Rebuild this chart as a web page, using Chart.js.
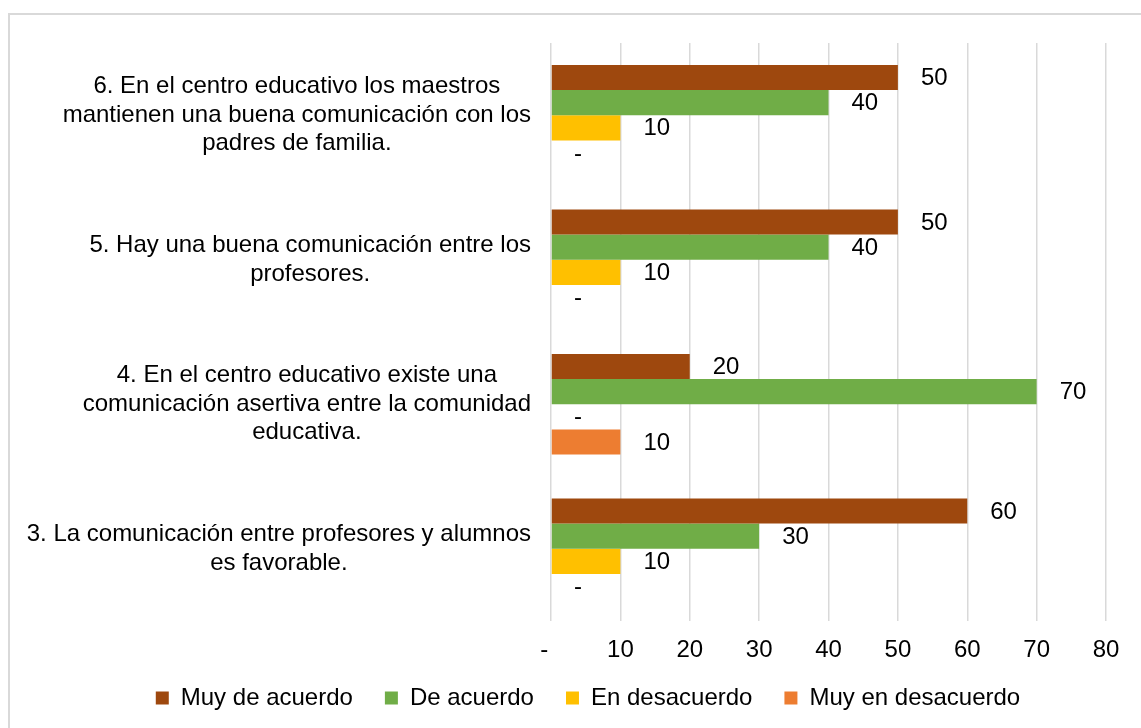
<!DOCTYPE html>
<html>
<head>
<meta charset="utf-8">
<script src="https://cdn.jsdelivr.net/npm/chart.js@4.4.0/dist/chart.umd.min.js"></script>
<style>
  html, body { margin: 0; padding: 0; background: #fff; overflow: hidden; }
  #wrap { position: relative; width: 1141px; height: 728px; }
  #frame { position: absolute; left: 8px; top: 13px; width: 1160px; height: 740px;
           border: 2px solid #d9d9d9; box-sizing: border-box; pointer-events: none; }
  canvas { position: absolute; left: 0; top: 0; }
</style>
</head>
<body>
<div id="wrap">
  <canvas id="chart" width="1141" height="728"></canvas>
  <div id="frame"></div>
</div>
<script>
var CATEGORIES = [
  ['6. En el centro educativo los maestros', 'mantienen una buena comunicación con los', 'padres de familia.'],
  ['5. Hay una buena comunicación entre los', 'profesores.'],
  ['4. En el centro educativo existe una', 'comunicación asertiva entre la comunidad', 'educativa.'],
  ['3. La comunicación entre profesores y alumnos', 'es favorable.']
];
var SERIES_NAMES = ['Muy de acuerdo', 'De acuerdo', 'En desacuerdo', 'Muy en desacuerdo'];
var MUY_DE_ACUERDO = [50, 50, 20, 60];
var DE_ACUERDO = [40, 40, 70, 30];
var EN_DESACUERDO = [10, 10, 0, 10];
var MUY_EN_DESACUERDO = [0, 0, 10, 0];
var X_MAX = 80;
var X_STEP = 10;
var ZERO_LABEL = '-';

var COLORS = ['#9e480e', '#70ad47', '#ffc000', '#ed7d31'];
var FONT = '"Liberation Sans", Arial, sans-serif';
var FONT_SIZE = 24;

Chart.defaults.font.family = FONT;
Chart.defaults.color = '#000';

// category labels: each block centred on itself, right edge near the axis
var yLabelPlugin = {
  id: 'yLabels',
  afterDraw: function(chart) {
    var ctx = chart.ctx;
    var scale = chart.scales.y;
    var right = scale.right - 20;
    ctx.save();
    ctx.font = FONT_SIZE + 'px ' + FONT;
    ctx.fillStyle = '#000';
    ctx.textAlign = 'center';
    ctx.textBaseline = 'middle';
    CATEGORIES.forEach(function(lines, i) {
      var widest = Math.max.apply(null, lines.map(function(l) { return ctx.measureText(l).width; }));
      var cx = right - widest / 2;
      var cy = scale.getPixelForValue(i);
      lines.forEach(function(line, j) {
        ctx.fillText(line, cx, cy + (j - (lines.length - 1) / 2) * 28.5);
      });
    });
    ctx.restore();
  }
};

var valueLabelPlugin = {
  id: 'valueLabels',
  afterDatasetsDraw: function(chart) {
    var ctx = chart.ctx;
    ctx.save();
    ctx.font = FONT_SIZE + 'px ' + FONT;
    ctx.fillStyle = '#000';
    ctx.textAlign = 'left';
    ctx.textBaseline = 'middle';
    chart.data.datasets.forEach(function(ds, di) {
      chart.getDatasetMeta(di).data.forEach(function(bar, i) {
        var v = ds.data[i];
        ctx.fillText(v === 0 ? ZERO_LABEL : String(v), bar.x + 23, bar.y + 1);
      });
    });
    ctx.restore();
  }
};

var seriesData = [MUY_DE_ACUERDO, DE_ACUERDO, EN_DESACUERDO, MUY_EN_DESACUERDO];

new Chart(document.getElementById('chart'), {
  type: 'bar',
  data: {
    labels: CATEGORIES,
    datasets: SERIES_NAMES.map(function(name, i) {
      return {
        label: name,
        data: seriesData[i],
        backgroundColor: COLORS[i],
        borderWidth: 0,
        barPercentage: 1,
        categoryPercentage: 0.697
      };
    })
  },
  options: {
    indexAxis: 'y',
    responsive: false,
    animation: false,
    layout: { padding: { left: 70, right: 35, top: 43, bottom: 8 } },
    plugins: {
      tooltip: { enabled: false },
      legend: {
        position: 'bottom',
        labels: {
          boxWidth: 13,
          boxHeight: 13,
          padding: 12,
          color: '#000',
          font: { size: FONT_SIZE },
          generateLabels: function(chart) {
            var items = Chart.defaults.plugins.legend.labels.generateLabels(chart);
            items.forEach(function(it, i) {
              if (i < items.length - 1) it.text += '   ';
            });
            return items;
          }
        }
      }
    },
    scales: {
      x: {
        min: 0,
        max: X_MAX,
        ticks: {
          stepSize: X_STEP,
          color: '#000',
          padding: 15,
          font: { size: FONT_SIZE },
          callback: function(v) { return v === 0 ? ZERO_LABEL + '  ' : v; }
        },
        grid: { color: '#d9d9d9', lineWidth: 1.5, drawTicks: false },
        border: { display: false },
        afterFit: function(s) { s.height = 53; }
      },
      y: {
        ticks: { display: false },
        grid: { display: false },
        border: { display: false },
        afterFit: function(s) { s.width = 481; }
      }
    }
  },
  plugins: [yLabelPlugin, valueLabelPlugin]
});
</script>
</body>
</html>
